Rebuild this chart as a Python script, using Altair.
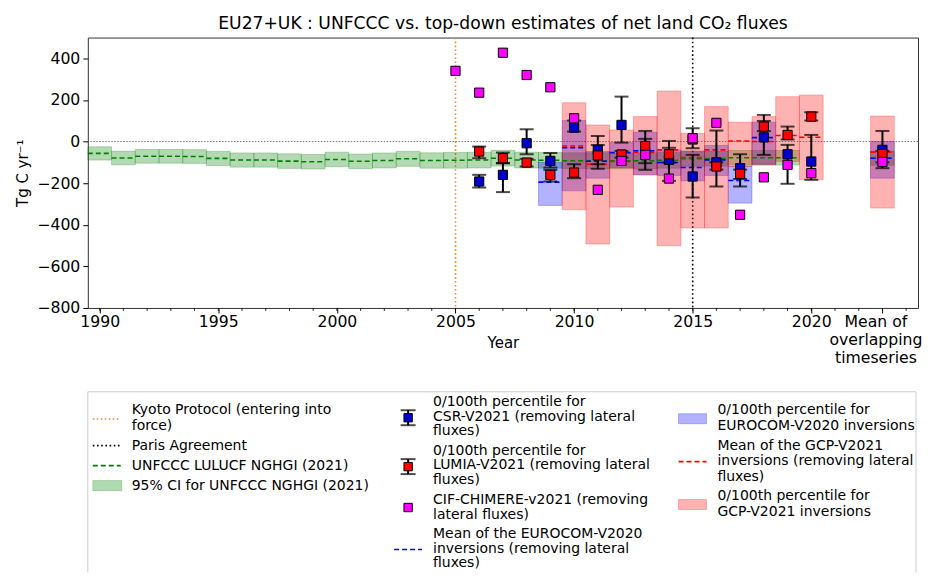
import altair as alt
import pandas as pd

FONT = "DejaVu Sans"

# ---------------- data ----------------
unfccc_years = list(range(1990, 2020))
unfccc_mean = [-57, -79, -71, -71, -72, -81, -89, -89, -94, -97, -86, -95, -91, -83, -91,
               -90, -89, -80, -89, -90, -92, -92, -93, -93, -90, -82, -82, -78, -78, -78]
unfccc_ci = [32, 33, 33, 33, 33, 34, 34, 34, 35, 35, 35, 35, 36, 36, 37,
             38, 38, 38, 38, 38, 38, 38, 38, 38, 38, 37, 36, 35, 35, 35]
overlap_x = 2023
unfccc_overlap_mean = -80
unfccc_overlap_ci = 34

td_x = [2006, 2007, 2008, 2009, 2010, 2011, 2012, 2013, 2014, 2015, 2016, 2017, 2018, 2019, 2020, 2023]
csr_val = [-192, -160, -8, -93, 67, -40, 80, -60, -88, -168, -100, -128, 20, -61, -96, -40]
csr_lo = [-221, -243, -61, -125, 48, -131, -5, -136, -189, -269, -216, -216, -64, -203, -184, -128]
csr_hi = [-160, -104, 59, -55, 101, 27, 216, 13, -30, -64, 53, -61, 99, -16, 32, 51]
lumia_val = [-48, -80, -101, -160, -149, -67, -62, -21, -61, 10, -120, -155, 72, 32, 120, -60]
lumia_lo = [-80, -104, -120, -192, -176, -109, -77, -104, -101, -32, -135, -180, 50, 10, 101, -100]
lumia_hi = [-24, -53, -83, -136, -109, -16, -45, 51, 3, 64, -100, -135, 128, 72, 141, -45]

cif_x = [2005, 2006, 2007, 2008, 2009, 2010, 2011, 2012, 2013, 2014, 2015, 2016, 2017, 2018, 2019, 2020, 2023]
cif_val = [340, 235, 427, 320, 261, 112, -232, -93, -64, -178, 16, 90, -352, -172, -112, -152, -98]

eurocom_x = [2009, 2010, 2011, 2012, 2013, 2014, 2015, 2016, 2017, 2018, 2023]
eurocom_mean = [-195, -29, -95, -53, -45, -101, -125, -88, -187, 19, -80]
eurocom_lo = [-307, -237, -176, -125, -160, -163, -189, -163, -296, -109, -176]
eurocom_hi = [-100, 101, -48, -5, 45, -40, -48, -19, -120, 93, 0]

gcp_x = [2010, 2011, 2012, 2013, 2014, 2015, 2016, 2017, 2018, 2019, 2020, 2023]
gcp_mean = [-21, -109, -96, -51, -40, -77, -40, 3, 0, 29, 21, -51]
gcp_lo = [-328, -493, -315, -160, -501, -416, -416, -120, -112, -96, -184, -320]
gcp_hi = [187, 80, 56, 120, 243, 40, 168, 93, 120, 216, 224, 123]

kyoto_year = [2005]
paris_year = [2015]

major_ticks = [1990, 1995, 2000, 2005, 2010, 2015, 2020, 2023]
minor_ticks = list(range(1990, 2025))

# ---------------- tables ----------------
unf = pd.DataFrame({
    "x": unfccc_years + [overlap_x],
    "m": unfccc_mean + [unfccc_overlap_mean],
    "ci": unfccc_ci + [unfccc_overlap_ci],
})
csr = pd.DataFrame({"x": td_x, "v": csr_val, "lo": csr_lo, "hi": csr_hi})
lum = pd.DataFrame({"x": td_x, "v": lumia_val, "lo": lumia_lo, "hi": lumia_hi})
cif = pd.DataFrame({"x": cif_x, "v": cif_val})
eur = pd.DataFrame({"x": eurocom_x, "m": eurocom_mean, "lo": eurocom_lo, "hi": eurocom_hi})
gcp = pd.DataFrame({"x": gcp_x, "m": gcp_mean, "lo": gcp_lo, "hi": gcp_hi})

W, H = 832, 271
TICK_FS = 15.7
KYOTO_C = "#f0862e"
xs = alt.Scale(domain=[1989.5, 2024.5], nice=False, zero=False)
ys = alt.Scale(domain=[-800, 500], nice=False, zero=False)

x_axis = alt.Axis(
    values=major_ticks,
    labelExpr="datum.value == 2023 ? ['Mean of', 'overlapping', 'timeseries'] : format(datum.value, 'd')",
    labelOffset={"condition": {"test": "datum.value == 2023", "value": -7}, "value": 0},
    labelOverlap=False, labelBound=False, labelFlush=False,
    title="Year", grid=False, domain=False, tickSize=5, tickColor="#000", tickWidth=1,
    labelFontSize=TICK_FS, labelColor="#000", labelPadding=2, labelLineHeight=18, labelFont=FONT,
    titleFontSize=15, titleFontWeight="normal", titleColor="#000", titleFont=FONT,
    titleY=40, titleBaseline="alphabetic",
)
y_axis = alt.Axis(
    values=[-800, -600, -400, -200, 0, 200, 400], format="d",
    title="Tg C yr⁻¹", grid=False, domain=False, tickSize=5, tickColor="#000", tickWidth=1,
    labelFontSize=TICK_FS, labelColor="#000", labelPadding=3, labelFont=FONT,
    titleFontSize=15, titleFontWeight="normal", titleColor="#000", titleFont=FONT,
    titleX=-65, titleY=H / 2, titleBaseline="middle",
)


def X(f):
    return alt.X(f, type="quantitative", scale=xs, axis=x_axis)


def Y(f):
    return alt.Y(f, type="quantitative", scale=ys, axis=y_axis)


def boxes(df, color, lo, hi):
    return alt.Chart(df).transform_calculate(
        x0="datum.x - 0.5", x1="datum.x + 0.5"
    ).mark_rect(color=color, fillOpacity=0.3, stroke=color, strokeOpacity=0.25, strokeWidth=1).encode(
        x=X("x0"), x2="x1", y=Y(lo), y2=hi
    )


def segs(df, color, field):
    return alt.Chart(df).transform_calculate(
        x0="datum.x - 0.5", x1="datum.x + 0.5"
    ).mark_rule(color=color, strokeWidth=1.6, strokeDash=[5, 3]).encode(
        x=X("x0"), x2="x1", y=Y(field)
    )


def errbars(df):
    bar = alt.Chart(df).mark_rule(color="#000", strokeWidth=2).encode(x=X("x"), y=Y("lo"), y2="hi")
    cap_lo = alt.Chart(df).mark_tick(color="#000", orient="horizontal", size=14, thickness=2).encode(
        x=X("x"), y=Y("lo"))
    cap_hi = alt.Chart(df).mark_tick(color="#000", orient="horizontal", size=14, thickness=2).encode(
        x=X("x"), y=Y("hi"))
    return bar + cap_lo + cap_hi


def squares(df, color):
    return alt.Chart(df).mark_square(size=85, filled=True, color=color, stroke="#000",
                                     strokeWidth=1, opacity=1).encode(x=X("x"), y=Y("v"))


unf_c = unf.assign(lo=unf["m"] - unf["ci"], hi=unf["m"] + unf["ci"])

zero = alt.Chart(pd.DataFrame({"v": [0]})).mark_rule(
    color="#555", strokeWidth=0.8, strokeDash=[1.5, 1.5]).encode(y=Y("v"))
kyoto = alt.Chart(pd.DataFrame({"x": kyoto_year})).mark_rule(
    color=KYOTO_C, strokeWidth=1.6, strokeDash=[1.6, 2.4]).encode(x=X("x"))
paris = alt.Chart(pd.DataFrame({"x": paris_year})).mark_rule(
    color="#000", strokeWidth=1.6, strokeDash=[1.6, 2.6]).encode(x=X("x"))
minor = alt.Chart(pd.DataFrame({"x": minor_ticks})).mark_rule(
    color="#000", strokeWidth=0.8).encode(x=X("x"), y=alt.value(H), y2=alt.value(H + 3))

main = alt.layer(
    zero, kyoto, paris,
    boxes(unf_c, "#008000", "lo", "hi"),
    boxes(eur, "#0000ff", "lo", "hi"),
    boxes(gcp, "#ff0000", "lo", "hi"),
    segs(unf_c, "#008000", "m"),
    segs(eur, "#0000ff", "m"),
    segs(gcp, "#ff0000", "m"),
    errbars(csr), errbars(lum),
    squares(csr, "#0000cd"), squares(lum, "#ff0000"), squares(cif, "#ff00ff"),
    minor,
).properties(
    width=W, height=H,
    title=alt.TitleParams("EU27+UK : UNFCCC vs. top-down estimates of net land CO₂ fluxes",
                          fontSize=17.2, fontWeight="normal", font=FONT, color="#000",
                          anchor="middle", offset=5),
    view=alt.ViewBackground(stroke="#333", strokeWidth=1),
)

# ---------------- legend panel ----------------
LW, LH = 830, 181
LFS = 14
lxs = alt.Scale(domain=[0, LW], nice=False, zero=False)
lys = alt.Scale(domain=[0, LH], nice=False, zero=False, reverse=True)


def LX(f):
    return alt.X(f, type="quantitative", scale=lxs, axis=None)


def LY(f):
    return alt.Y(f, type="quantitative", scale=lys, axis=None)


leg_text = pd.DataFrame([
    (44, 18.3, "Kyoto Protocol (entering into"), (44, 34, "force)"),
    (44, 54, "Paris Agreement"),
    (44, 74, "UNFCCC LULUCF NGHGI (2021)"),
    (44, 94, "95% CI for UNFCCC NGHGI (2021)"),
    (346, 10, "0/100th percentile for"), (346, 24.8, "CSR-V2021 (removing lateral"), (346, 39.6, "fluxes)"),
    (346, 59, "0/100th percentile for"), (346, 73.8, "LUMIA-V2021 (removing lateral"), (346, 88.6, "fluxes)"),
    (346, 108.5, "CIF-CHIMERE-v2021 (removing"), (346, 123.3, "lateral fluxes)"),
    (346, 142.5, "Mean of the EUROCOM-V2020"), (346, 157.3, "inversions (removing lateral"), (346, 172, "fluxes)"),
    (631, 18, "0/100th percentile for"), (631, 34, "EUROCOM-V2020 inversions"),
    (631, 54, "Mean of the GCP-V2021"), (631, 69, "inversions (removing lateral"), (631, 85, "fluxes)"),
    (631, 104, "0/100th percentile for"), (631, 120, "GCP-V2021 inversions"),
], columns=["x", "y", "t"])

texts = alt.Chart(leg_text).mark_text(align="left", baseline="middle", fontSize=LFS, font=FONT,
                                      color="#000").encode(x=LX("x"), y=LY("y"), text="t:N")


def lline(x0, x1, y, color, dash, width):
    d = pd.DataFrame({"x0": [x0], "x1": [x1], "y": [y]})
    return alt.Chart(d).mark_rule(color=color, strokeDash=dash, strokeWidth=width).encode(
        x=LX("x0"), x2="x1", y=LY("y"))


def lrect(x0, x1, y0, y1, color):
    d = pd.DataFrame({"x0": [x0], "x1": [x1], "y0": [y0], "y1": [y1]})
    return alt.Chart(d).mark_rect(color=color, fillOpacity=0.3, stroke=color, strokeOpacity=0.25).encode(
        x=LX("x0"), x2="x1", y=LY("y0"), y2="y1")


def lerr(x, y, color):
    d = pd.DataFrame({"x": [x], "y0": [y - 7.5], "y1": [y + 7.5], "y": [y]})
    bar = alt.Chart(d).mark_rule(color="#000", strokeWidth=2).encode(x=LX("x"), y=LY("y0"), y2="y1")
    c1 = alt.Chart(d).mark_tick(color="#000", orient="horizontal", size=15, thickness=2).encode(
        x=LX("x"), y=LY("y0"))
    c2 = alt.Chart(d).mark_tick(color="#000", orient="horizontal", size=15, thickness=2).encode(
        x=LX("x"), y=LY("y1"))
    sq = alt.Chart(d).mark_square(size=70, filled=True, color=color, stroke="#000", strokeWidth=1,
                                  opacity=1).encode(x=LX("x"), y=LY("y"))
    return bar + c1 + c2 + sq


def lsq(x, y, color):
    d = pd.DataFrame({"x": [x], "y": [y]})
    return alt.Chart(d).mark_square(size=70, filled=True, color=color, stroke="#000", strokeWidth=1,
                                    opacity=1).encode(x=LX("x"), y=LY("y"))


border = pd.DataFrame({"x0": [0, 0, LW], "x1": [LW, 0, LW], "y0": [0, 0, 0], "y1": [0, LH, LH]})
frame = alt.Chart(border).mark_rule(color="#cccccc", strokeWidth=1).encode(
    x=LX("x0"), x2="x1", y=LY("y0"), y2="y1")

legend = alt.layer(
    frame,
    lline(5, 33, 27.3, KYOTO_C, [1.6, 2.4], 1.6),
    lline(5, 33, 54, "#000", [1.6, 2.6], 1.6),
    lline(5, 33, 74, "#008000", [5, 3], 1.6),
    lrect(5, 34, 89, 99, "#008000"),
    lerr(321, 26, "#0000cd"),
    lerr(321, 75, "#ff0000"),
    lsq(321, 116, "#ff00ff"),
    lline(307, 335, 158, "#0000ff", [5, 3], 1.6),
    lrect(592, 620, 22, 32, "#0000ff"),
    lline(592, 620, 70, "#ff0000", [5, 3], 1.6),
    lrect(592, 620, 108, 118, "#ff0000"),
    texts,
).properties(width=LW, height=LH, view=alt.ViewBackground(strokeWidth=0))

chart = alt.vconcat(main, legend, spacing=84, bounds="flush").properties(
    padding={"left": 7, "top": 5, "right": 0, "bottom": 0}
).configure_view(strokeWidth=0).configure(font=FONT)

chart.save("out.html", embed_options={"renderer": "svg", "actions": False})
